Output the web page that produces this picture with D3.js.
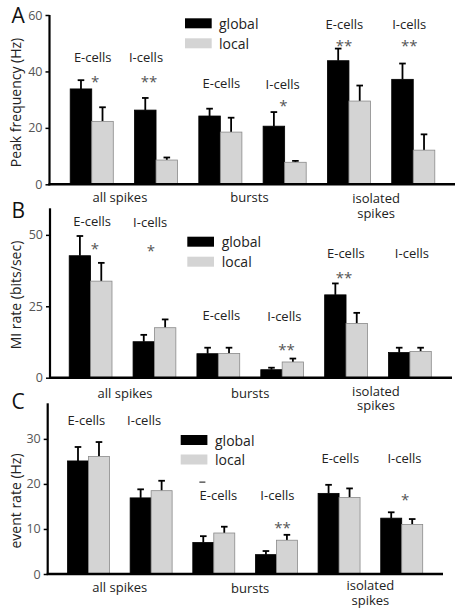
<!DOCTYPE html>
<html><head><meta charset="utf-8">
<script src="https://cdn.jsdelivr.net/npm/d3@7"></script>
<style>
body{margin:0;background:#fff;}
svg text{font-family:"Open Sans",sans-serif;}
</style></head>
<body><svg id="c" width="463" height="612"></svg>
<script>
// ---------- data ----------
const groups = ["all spikes", "bursts", "isolated spikes"];
const cellTypes = ["E-cells", "I-cells"];
const seriesNames = ["global", "local"];
// six bar pairs: (all spikes E, all spikes I, bursts E, bursts I, isolated E, isolated I)

// Panel A: Peak frequency (Hz)
const peakGlobal    = [33.8, 26.3, 24.2, 20.6, 43.8, 37.2];
const peakGlobalErr = [3.1, 4.3, 2.6, 5.0, 4.3, 5.6];
const peakLocal     = [22.3, 8.6, 18.5, 7.8, 29.5, 12.1];
const peakLocalErr  = [5.0, 0.9, 5.1, 0.5, 5.5, 5.6];
const peakTicks = [0, 20, 40, 60];
const peakLabelY = [45.2, 45.2, 35.9, 35.5, 56.8, 56.8];
const peakStars  = ["*", "**", "", "*", "**", "**"];
const peakStarY  = [38.4, 38.4, 0, 29.9, 51, 51];

// Panel B: MI rate (bits/sec)
const miGlobal    = [42.7, 12.6, 8.4, 2.8, 29.0, 8.8];
const miGlobalErr = [6.9, 2.4, 2.1, 0.7, 4.0, 1.7];
const miLocal     = [33.8, 17.5, 8.5, 5.5, 19.0, 9.2];
const miLocalErr  = [6.4, 2.9, 2.0, 1.2, 3.7, 1.3];
const miTicks = [0, 25, 50];
const miLabelY = [55, 54.5, 21.9, 21.6, 43.6, 43.6];
const miStars  = ["*", "*", "", "**", "**", ""];
const miStarY  = [47.3, 46.5, 0, 11.8, 37.1, 0];

// Panel C: event rate (Hz)
const evGlobal    = [25.1, 16.9, 7.0, 4.3, 17.9, 12.4];
const evGlobalErr = [3.1, 1.9, 1.4, 0.8, 1.9, 1.3];
const evLocal     = [26.1, 18.5, 9.1, 7.5, 17.0, 11.0];
const evLocalErr  = [3.2, 2.2, 1.4, 1.2, 2.0, 1.2];
const evTicks = [0, 10, 20, 30];
const evLabelY = [34.2, 34.2, 17.6, 17.6, 25.7, 25.7];
const evStars  = ["", "", "", "**", "", "*"];
const evStarY  = [0, 0, 0, 11.5, 0, 17.7];
const evDashY  = 20.4;

// ---------- layout ----------
const svg = d3.select("#c");
const panels = [
  { letter:"A", letterY:23, title:"Peak frequency (Hz)", titleY:102.5,
    g:peakGlobal, ge:peakGlobalErr, l:peakLocal, le:peakLocalErr, ticks:peakTicks,
    domain:[0,60], yr:[184.3,15], xr:[70.2,434.8], axisX:49.5, baseEnd:455,
    labY:peakLabelY, stars:peakStars, starY:peakStarY,
    labDx:[1,-10,1,-2,-4.5,-4], starDx:[3.3,-7,0,-1.3,-5,-4],
    legX:185, legY:[18.3,38.3], legTx:219,
    grpY:[197,197,198.3], grpDx:[-4,-3,-5] },
  { letter:"B", letterY:218, title:"MI rate (bits/sec)", titleY:295,
    g:miGlobal, ge:miGlobalErr, l:miLocal, le:miLocalErr, ticks:miTicks,
    domain:[0,59.3], yr:[377.7,208.3], xr:[69.2,431.3], axisX:50, baseEnd:452,
    labY:miLabelY, stars:miStars, starY:miStarY,
    labDx:[1.6,-4.3,3,2.2,-0.2,2], starDx:[4.3,-3.6,0,4.4,-2,0],
    legX:187.3, legY:[236.7,256.7], legTx:221.7,
    grpY:[392.7,392.7,390.7], grpDx:[2.5,0,-2] },
  { letter:"C", letterY:409, title:"event rate (Hz)", titleY:501,
    g:evGlobal, ge:evGlobalErr, l:evLocal, le:evLocalErr, ticks:evTicks,
    domain:[0,37.9], yr:[574,403.3], xr:[67.5,422.7], axisX:47.7, baseEnd:443,
    labY:evLabelY, stars:evStars, starY:evStarY,
    labDx:[-2.1,-7,4.6,1,1.2,2.8], starDx:[0,0,0,6,0,3.3],
    legX:180.7, legY:[435,454.5], legTx:215,
    grpY:[586.7,587.7,585], grpDx:[0,5,0], dash:true }
];

const pairIdx = d3.range(6);

panels.forEach(p => {
  const y = d3.scaleLinear().domain(p.domain).range(p.yr);
  const x = d3.scaleBand().domain(pairIdx).range(p.xr).paddingInner(0.33).paddingOuter(0);
  const xs = d3.scaleBand().domain(seriesNames).range([0, x.bandwidth()]);
  const gp = svg.append("g");

  const rows = [];
  pairIdx.forEach(i => {
    rows.push({i, s:"global", v:p.g[i], e:p.ge[i]});
    rows.push({i, s:"local", v:p.l[i], e:p.le[i]});
  });
  rows.forEach(d => {
    const cx = x(d.i) + xs(d.s) + xs.bandwidth()/2;
    gp.append("line").attr("x1",cx).attr("x2",cx).attr("y1",y(d.v)).attr("y2",y(d.v+d.e))
      .attr("stroke","#000").attr("stroke-width",1.8);
    gp.append("line").attr("x1",cx-3.3).attr("x2",cx+3.3).attr("y1",y(d.v+d.e)).attr("y2",y(d.v+d.e))
      .attr("stroke","#000").attr("stroke-width",1.8);
  });
  gp.selectAll("rect.bar").data(rows).join("rect")
    .attr("x", d => x(d.i) + xs(d.s))
    .attr("y", d => y(d.v))
    .attr("width", xs.bandwidth())
    .attr("height", d => y(0) - y(d.v))
    .attr("fill", d => d.s === "global" ? "#000" : "#d4d4d4")
    .attr("stroke", d => d.s === "global" ? "#000" : "#8a8a8a")
    .attr("stroke-width", 0.8);

  const ax = d3.axisLeft(y).tickValues(p.ticks).tickSize(4).tickPadding(3);
  const axg = gp.append("g").attr("transform",`translate(${p.axisX},0)`).call(ax);
  axg.select(".domain").remove();
  axg.selectAll(".tick line").attr("stroke","#000").attr("stroke-width",1.5);
  axg.selectAll(".tick text").attr("fill","#555").attr("font-size",12.5)
     .attr("font-family","'Open Sans',sans-serif");
  gp.append("line").attr("x1",p.axisX).attr("x2",p.axisX).attr("y1",p.yr[1]).attr("y2",y(0)+1)
    .attr("stroke","#000").attr("stroke-width",2.2);
  gp.append("line").attr("x1",p.axisX-1).attr("x2",p.baseEnd).attr("y1",y(0)).attr("y2",y(0))
    .attr("stroke","#000").attr("stroke-width",2.6);

  gp.append("text").attr("x",11.5).attr("y",p.letterY).text(p.letter)
    .attr("font-size",21).attr("font-family","'Liberation Sans',Arial,sans-serif").attr("fill","#111");
  gp.append("text").attr("transform",`translate(15.5,${p.titleY}) rotate(-90)`)
    .attr("text-anchor","middle").attr("dominant-baseline","central")
    .attr("font-size",14).attr("fill","#222").text(p.title);

  pairIdx.forEach(i => {
    const cx = x(i) + x.bandwidth()/2;
    gp.append("text").attr("x",cx + p.labDx[i]).attr("y",y(p.labY[i]))
      .attr("text-anchor","middle").attr("dominant-baseline","central")
      .attr("font-size",13).attr("fill","#222").text(cellTypes[i % 2]);
    if (p.stars[i]) {
      gp.append("text").attr("x",cx + p.starDx[i]).attr("y",y(p.starY[i]) + 5)
        .attr("text-anchor","middle").attr("dominant-baseline","central")
        .attr("font-size",15).attr("fill","#555").text(p.stars[i]);
    }
  });
  if (p.dash) {
    const cx = x(2) + x.bandwidth()/2 - 11.4;
    gp.append("line").attr("x1",cx-3).attr("x2",cx+3).attr("y1",y(evDashY)).attr("y2",y(evDashY))
      .attr("stroke","#333").attr("stroke-width",1.2);
  }

  groups.forEach((gname, k) => {
    const cx = (x(2*k) + x(2*k+1) + x.bandwidth())/2 + p.grpDx[k];
    const words = gname === "isolated spikes" ? ["isolated","spikes"] : [gname];
    const t = gp.append("text").attr("y",p.grpY[k]).attr("text-anchor","middle")
      .attr("dominant-baseline","central").attr("font-size",13).attr("fill","#222");
    words.forEach((w, j) => {
      t.append("tspan").attr("x",cx).attr("y",p.grpY[k] + j*14.5).text(w);
    });
  });

  seriesNames.forEach((s, j) => {
    gp.append("rect").attr("x",p.legX).attr("y",p.legY[j]).attr("width",26.7).attr("height",10)
      .attr("fill", j === 0 ? "#000" : "#d4d4d4");
    gp.append("text").attr("x",p.legTx).attr("y",p.legY[j]+5)
      .attr("dominant-baseline","central").attr("font-size",14).attr("fill","#222").text(s);
  });
});
</script>
</body></html>
